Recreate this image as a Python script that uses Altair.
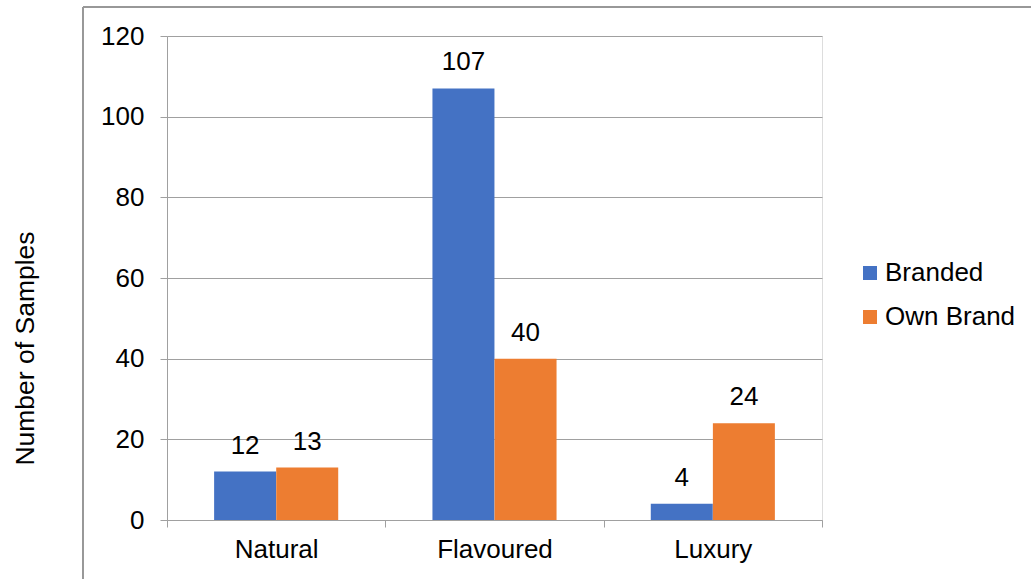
import altair as alt
import pandas as pd

# Sample counts per product category
categories = ["Natural", "Flavoured", "Luxury"]
series_names = ["Branded", "Own Brand"]
branded = [12, 107, 4]
own_brand = [13, 40, 24]
y_ticks = [0, 20, 40, 60, 80, 100, 120]

colors = ["#4472C4", "#ED7D31"]
FONT = "Liberation Sans"
FS = 26
GRID = "#a0a0a0"

rows = []
for cat, b, o in zip(categories, branded, own_brand):
    rows.append({"Category": cat, "Type": series_names[0], "Count": b})
    rows.append({"Category": cat, "Type": series_names[1], "Count": o})
df = pd.DataFrame(rows)

W, H = 655, 484

x_enc = alt.X(
    "Category:N",
    sort=categories,
    scale=alt.Scale(paddingInner=0, paddingOuter=0),
    axis=alt.Axis(
        title=None,
        labelAngle=0,
        labelFont=FONT,
        labelFontSize=FS,
        labelColor="black",
        labelPadding=9,
        tickBand="extent",
        tickSize=7,
        tickColor=GRID,
        domainColor=GRID,
        grid=False,
    ),
)
xoff_enc = alt.XOffset(
    "Type:N",
    sort=series_names,
    scale=alt.Scale(paddingInner=0, paddingOuter=0.758),
)
y_enc = alt.Y(
    "Count:Q",
    scale=alt.Scale(domain=[0, 120], nice=False),
    axis=alt.Axis(
        title="Number of Samples",
        titleFont=FONT,
        titleFontSize=26.5,
        titleFontWeight="normal",
        titleColor="black",
        titleX=-134,
        titleY=312,
        titleAngle=270,
        titleAlign="center",
        titleBaseline="alphabetic",
        values=y_ticks,
        labelFont=FONT,
        labelFontSize=FS,
        labelColor="black",
        labelPadding=16,
        tickSize=7,
        tickColor=GRID,
        domainColor=GRID,
        gridColor=GRID,
        grid=True,
    ),
)

bars = alt.Chart(df).mark_bar(size=62).encode(
    x=x_enc,
    xOffset=xoff_enc,
    y=y_enc,
    color=alt.Color(
        "Type:N",
        sort=series_names,
        scale=alt.Scale(domain=series_names, range=colors),
        legend=alt.Legend(
            title=None,
            orient="none",
            legendX=690,
            legendY=224,
            symbolType="square",
            symbolSize=196,
            symbolStrokeWidth=0,
            labelFont=FONT,
            labelFontSize=FS,
            labelColor="black",
            labelOffset=2,
            rowPadding=18,
            padding=0,
        ),
    ),
)

labels = alt.Chart(df).mark_text(
    font=FONT, fontSize=FS, color="black", baseline="alphabetic", dy=-18
).encode(
    x=alt.X("Category:N", sort=categories),
    xOffset=alt.XOffset("Type:N", sort=series_names),
    y=alt.Y("Count:Q"),
    text=alt.Text("Count:Q"),
)

# Outer frame of the chart area (left and top edges)
frame_left = alt.Chart(df).mark_rule(color="#999999", strokeWidth=1.3).encode(
    x=alt.value(-84), y=alt.value(-29), y2=alt.value(560)
)
frame_top = alt.Chart(df).mark_rule(color="#999999", strokeWidth=1.3).encode(
    x=alt.value(-84), x2=alt.value(880), y=alt.value(-29)
)

chart = (
    alt.layer(frame_left, frame_top, bars, labels)
    .properties(
        width=W,
        height=H,
        autosize=alt.AutoSizeParams(type="none"),
        padding={"left": 167, "top": 36, "right": 209, "bottom": 59},
    )
    .configure_view(stroke=None)
    .configure(background="white")
)

chart.save("out.html", embed_options={"renderer": "svg", "actions": False})
